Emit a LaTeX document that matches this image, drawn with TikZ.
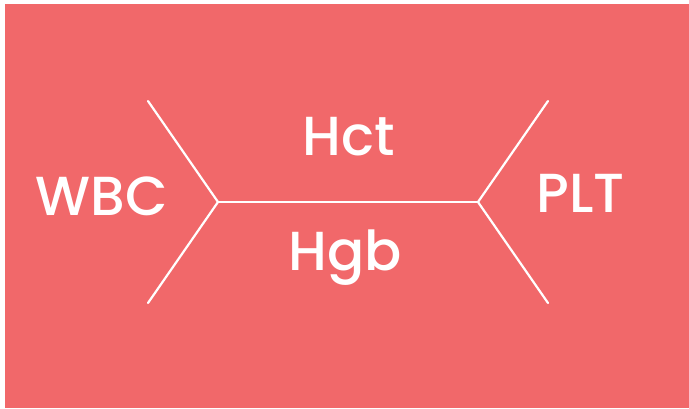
\documentclass[tikz,border=0pt]{standalone}
\usepackage{fontspec}
\setmainfont{Poppins Medium}
\definecolor{bgred}{RGB}{241,104,106}
\begin{document}
\begin{tikzpicture}[x=1pt,y=-1pt,
  lbl/.style={text=white,font=\fontsize{55}{55}\selectfont,anchor=base,inner sep=0pt},
  wline/.style={draw=white,line width=2.2pt,line cap=round}]
\useasboundingbox (0,0) rectangle (689,408);
\fill[bgred] (5,4) rectangle (689,408);
\coordinate (lv) at (218,202);
\coordinate (rv) at (478,202);
\coordinate (lt) at (148,101);
\coordinate (lb) at (148,303);
\coordinate (rt) at (548,101);
\coordinate (rb) at (548,303);
\draw[wline] (lt) -- (lv) -- (lb);
\draw[wline] (rt) -- (rv) -- (rb);
\draw[wline] (lv) -- (rv);
\node[lbl] (wbc) at (102,215) {WBC};
\node[lbl] (hct) at (348.5,155) {Hct};
\node[lbl] (hgb) at (345.5,270) {Hgb};
\node[lbl] (plt) at (580.5,212) {PLT};
\end{tikzpicture}
\end{document}
